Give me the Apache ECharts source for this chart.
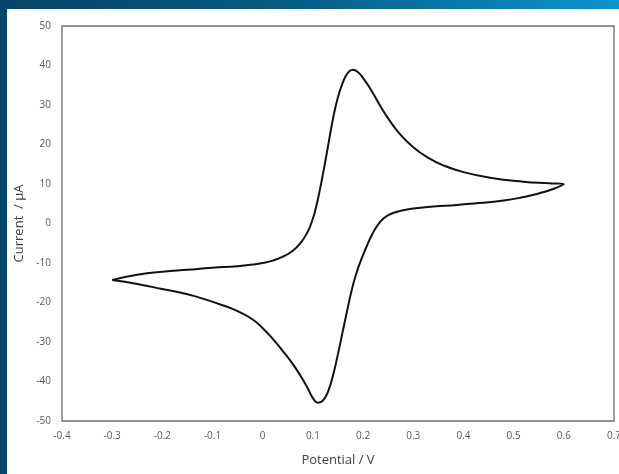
<!DOCTYPE html>
<html>
<head>
<meta charset="utf-8">
<script src="https://cdn.jsdelivr.net/npm/echarts@6/dist/echarts.min.js"></script>
<style>
html,body{margin:0;padding:0;width:619px;height:474px;overflow:hidden;}
body{background:linear-gradient(to right,#054568 0%,#075a82 45%,#0a7fb4 80%,#0b95cf 100%);position:relative;}
#chart{position:absolute;left:7px;top:9px;width:612px;height:465px;background:#fff;}
</style>
</head>
<body>
<div id="chart"></div>
<script>
// Forward (anodic) scan: potential (V) and current (µA)
const forwardPotential = [-0.3,-0.25,-0.2,-0.15,-0.1,-0.05,-0.02,0,0.02,0.04,0.06,0.075,0.088,0.098,0.106,0.113,0.12,0.13,0.14,0.15,0.16,0.17,0.18,0.19,0.2,0.215,0.234,0.25,0.273,0.3,0.33,0.36,0.4,0.453,0.519,0.57,0.6];
const forwardCurrent   = [-14.3,-13.0,-12.2,-11.7,-11.2,-10.8,-10.4,-10.0,-9.4,-8.4,-6.9,-5.0,-2.5,0.5,4.0,8.0,12.5,19.5,26.5,32,35.8,38.2,38.9,38.3,36.8,34.0,29.8,26.6,22.7,19.3,16.6,14.7,13.0,11.6,10.6,10.2,10];
// Reverse (cathodic) scan
const reversePotential = [0.6,0.58,0.55,0.52,0.48,0.43,0.387,0.34,0.3,0.275,0.255,0.24,0.228,0.218,0.208,0.198,0.19,0.18,0.17,0.16,0.15,0.14,0.13,0.12,0.11,0.1,0.09,0.075,0.06,0.04,0.02,0,-0.02,-0.05,-0.08,-0.11,-0.15,-0.2,-0.25,-0.3];
const reverseCurrent   = [10,8.8,7.6,6.7,5.8,5.2,4.7,4.3,3.8,3.2,2.4,1.2,-0.6,-2.8,-5.5,-8.6,-11.3,-15.5,-21,-27,-33,-38.5,-42.6,-44.8,-45.4,-44.2,-41.8,-38.5,-35.6,-32.3,-29.2,-26.5,-24.3,-22.2,-20.7,-19.4,-17.9,-16.6,-15.3,-14.3];
const xTicks = [-0.4,-0.3,-0.2,-0.1,0,0.1,0.2,0.3,0.4,0.5,0.6,0.7];
const yTicks = [-50,-40,-30,-20,-10,0,10,20,30,40,50];

const data = [];
forwardPotential.forEach((p,i)=>data.push([p,forwardCurrent[i]]));
reversePotential.forEach((p,i)=>{ if(i>0) data.push([p,reverseCurrent[i]]); });

const chart = echarts.init(document.getElementById('chart'), null, {renderer:'canvas'});
const labelStyle = {color:'#595959', fontSize:10, fontFamily:'Open Sans, Liberation Sans, sans-serif'};
chart.setOption({
  animation:false,
  backgroundColor:'#fff',
  grid:{left:55,top:17,right:5,bottom:53,show:true,borderColor:'#6b6b6b',borderWidth:1.3,backgroundColor:'transparent',
    containLabel:false,outerBoundsMode:'none'},
  xAxis:{type:'value',min:xTicks[0],max:xTicks[xTicks.length-1],interval:0.1,
    axisLine:{show:false},axisTick:{show:false},splitLine:{show:false},
    axisLabel:Object.assign({margin:10,showMaxLabel:true,hideOverlap:false,formatter:v=>String(Math.round(v*10)/10)},labelStyle),
    name:'Potential / V',nameLocation:'middle',nameGap:33,
    nameTextStyle:{color:'#404040',fontSize:13,fontFamily:'Open Sans, Liberation Sans, sans-serif'}},
  yAxis:{type:'value',min:yTicks[0],max:yTicks[yTicks.length-1],interval:10,
    axisLine:{show:false},axisTick:{show:false},splitLine:{show:false},
    axisLabel:Object.assign({margin:11},labelStyle),
    name:'Current  / µA',nameLocation:'middle',nameGap:36,nameRotate:90,
    nameTextStyle:{color:'#404040',fontSize:13,fontFamily:'Open Sans, Liberation Sans, sans-serif'}},
  series:[{type:'line',data:data,showSymbol:false,smooth:0.5,
    lineStyle:{color:'#111',width:2},clip:false}]
});
</script>
</body>
</html>
